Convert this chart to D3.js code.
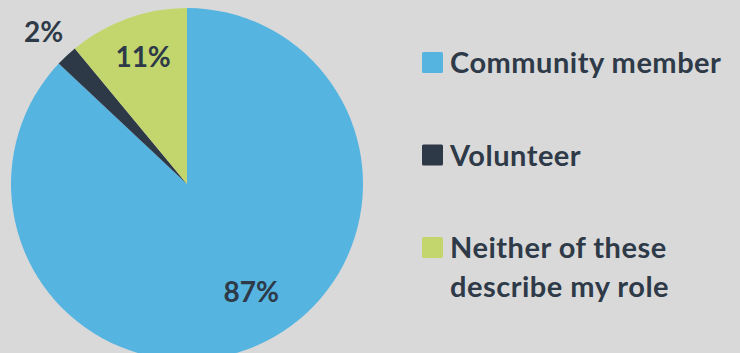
<!DOCTYPE html>
<html>
<head>
<meta charset="utf-8">
<script src="https://cdn.jsdelivr.net/npm/d3@7"></script>
<style>
  body { margin: 0; background: #d9d9d9; }
  svg { display: block; }
  text { font-family: Lato, "Open Sans", sans-serif; font-weight: bold; fill: #2e3a48; }
</style>
</head>
<body>
<svg></svg>
<script>
var categories = ["Community member", "Volunteer", "Neither of these describe my role"]
var values = [87, 2, 11]
var labels = ["87%", "2%", "11%"]
var colors = ["#55b4e0", "#2e3947", "#c3d66e"]
var legendLines = [["Community member"], ["Volunteer"], ["Neither of these", "describe my role"]]

var screen = {width: 740, height: 353}
var center = {x: 187, y: 184}
var radius = 176

var svg = d3.select("svg")
    .attr("width", screen.width)
    .attr("height", screen.height)

svg.append("rect")
    .attr("width", screen.width)
    .attr("height", screen.height)
    .attr("fill", "#d9d9d9")

var pie = d3.pie().sort(null).value(function(d){return d})
var arcs = pie(values)

var arc = d3.arc().innerRadius(0).outerRadius(radius)

var g = svg.append("g")
    .attr("transform", "translate(" + center.x + "," + center.y + ")")

g.selectAll("path")
    .data(arcs)
    .enter()
    .append("path")
    .attr("d", arc)
    .attr("fill", function(d, i){return colors[i]})

// label distance from centre, as a share of the radius
var labelDist = [0.72, 1.19, 0.77]
var labelShift = [[14, -8], [0, 1], [2, 0]]

g.selectAll(".lbl")
    .data(arcs)
    .enter()
    .append("text")
    .attr("class", "lbl")
    .attr("text-anchor", "middle")
    .attr("font-size", 28)
    .attr("x", function(d, i){
        var a = (d.startAngle + d.endAngle) / 2
        return Math.sin(a) * radius * labelDist[i] + labelShift[i][0]
    })
    .attr("y", function(d, i){
        var a = (d.startAngle + d.endAngle) / 2
        return -Math.cos(a) * radius * labelDist[i] + labelShift[i][1] + 10
    })
    .text(function(d, i){return labels[i]})

var legendY = d3.scalePoint()
    .domain(categories)
    .range([73, 258])

var legend = svg.append("g")
    .selectAll("g")
    .data(categories)
    .enter()
    .append("g")
    .attr("transform", function(d){return "translate(422," + legendY(d) + ")"})

legend.append("rect")
    .attr("x", 0)
    .attr("y", -21)
    .attr("width", 21)
    .attr("height", 21)
    .attr("rx", 1.5)
    .attr("fill", function(d, i){return colors[i]})

legend.append("text")
    .attr("font-size", 29)
    .attr("letter-spacing", 0.5)
    .selectAll("tspan")
    .data(function(d, i){return legendLines[i]})
    .enter()
    .append("tspan")
    .attr("x", 28)
    .attr("y", function(d, j){return j * 39})
    .text(function(d){return d})
</script>
</body>
</html>
